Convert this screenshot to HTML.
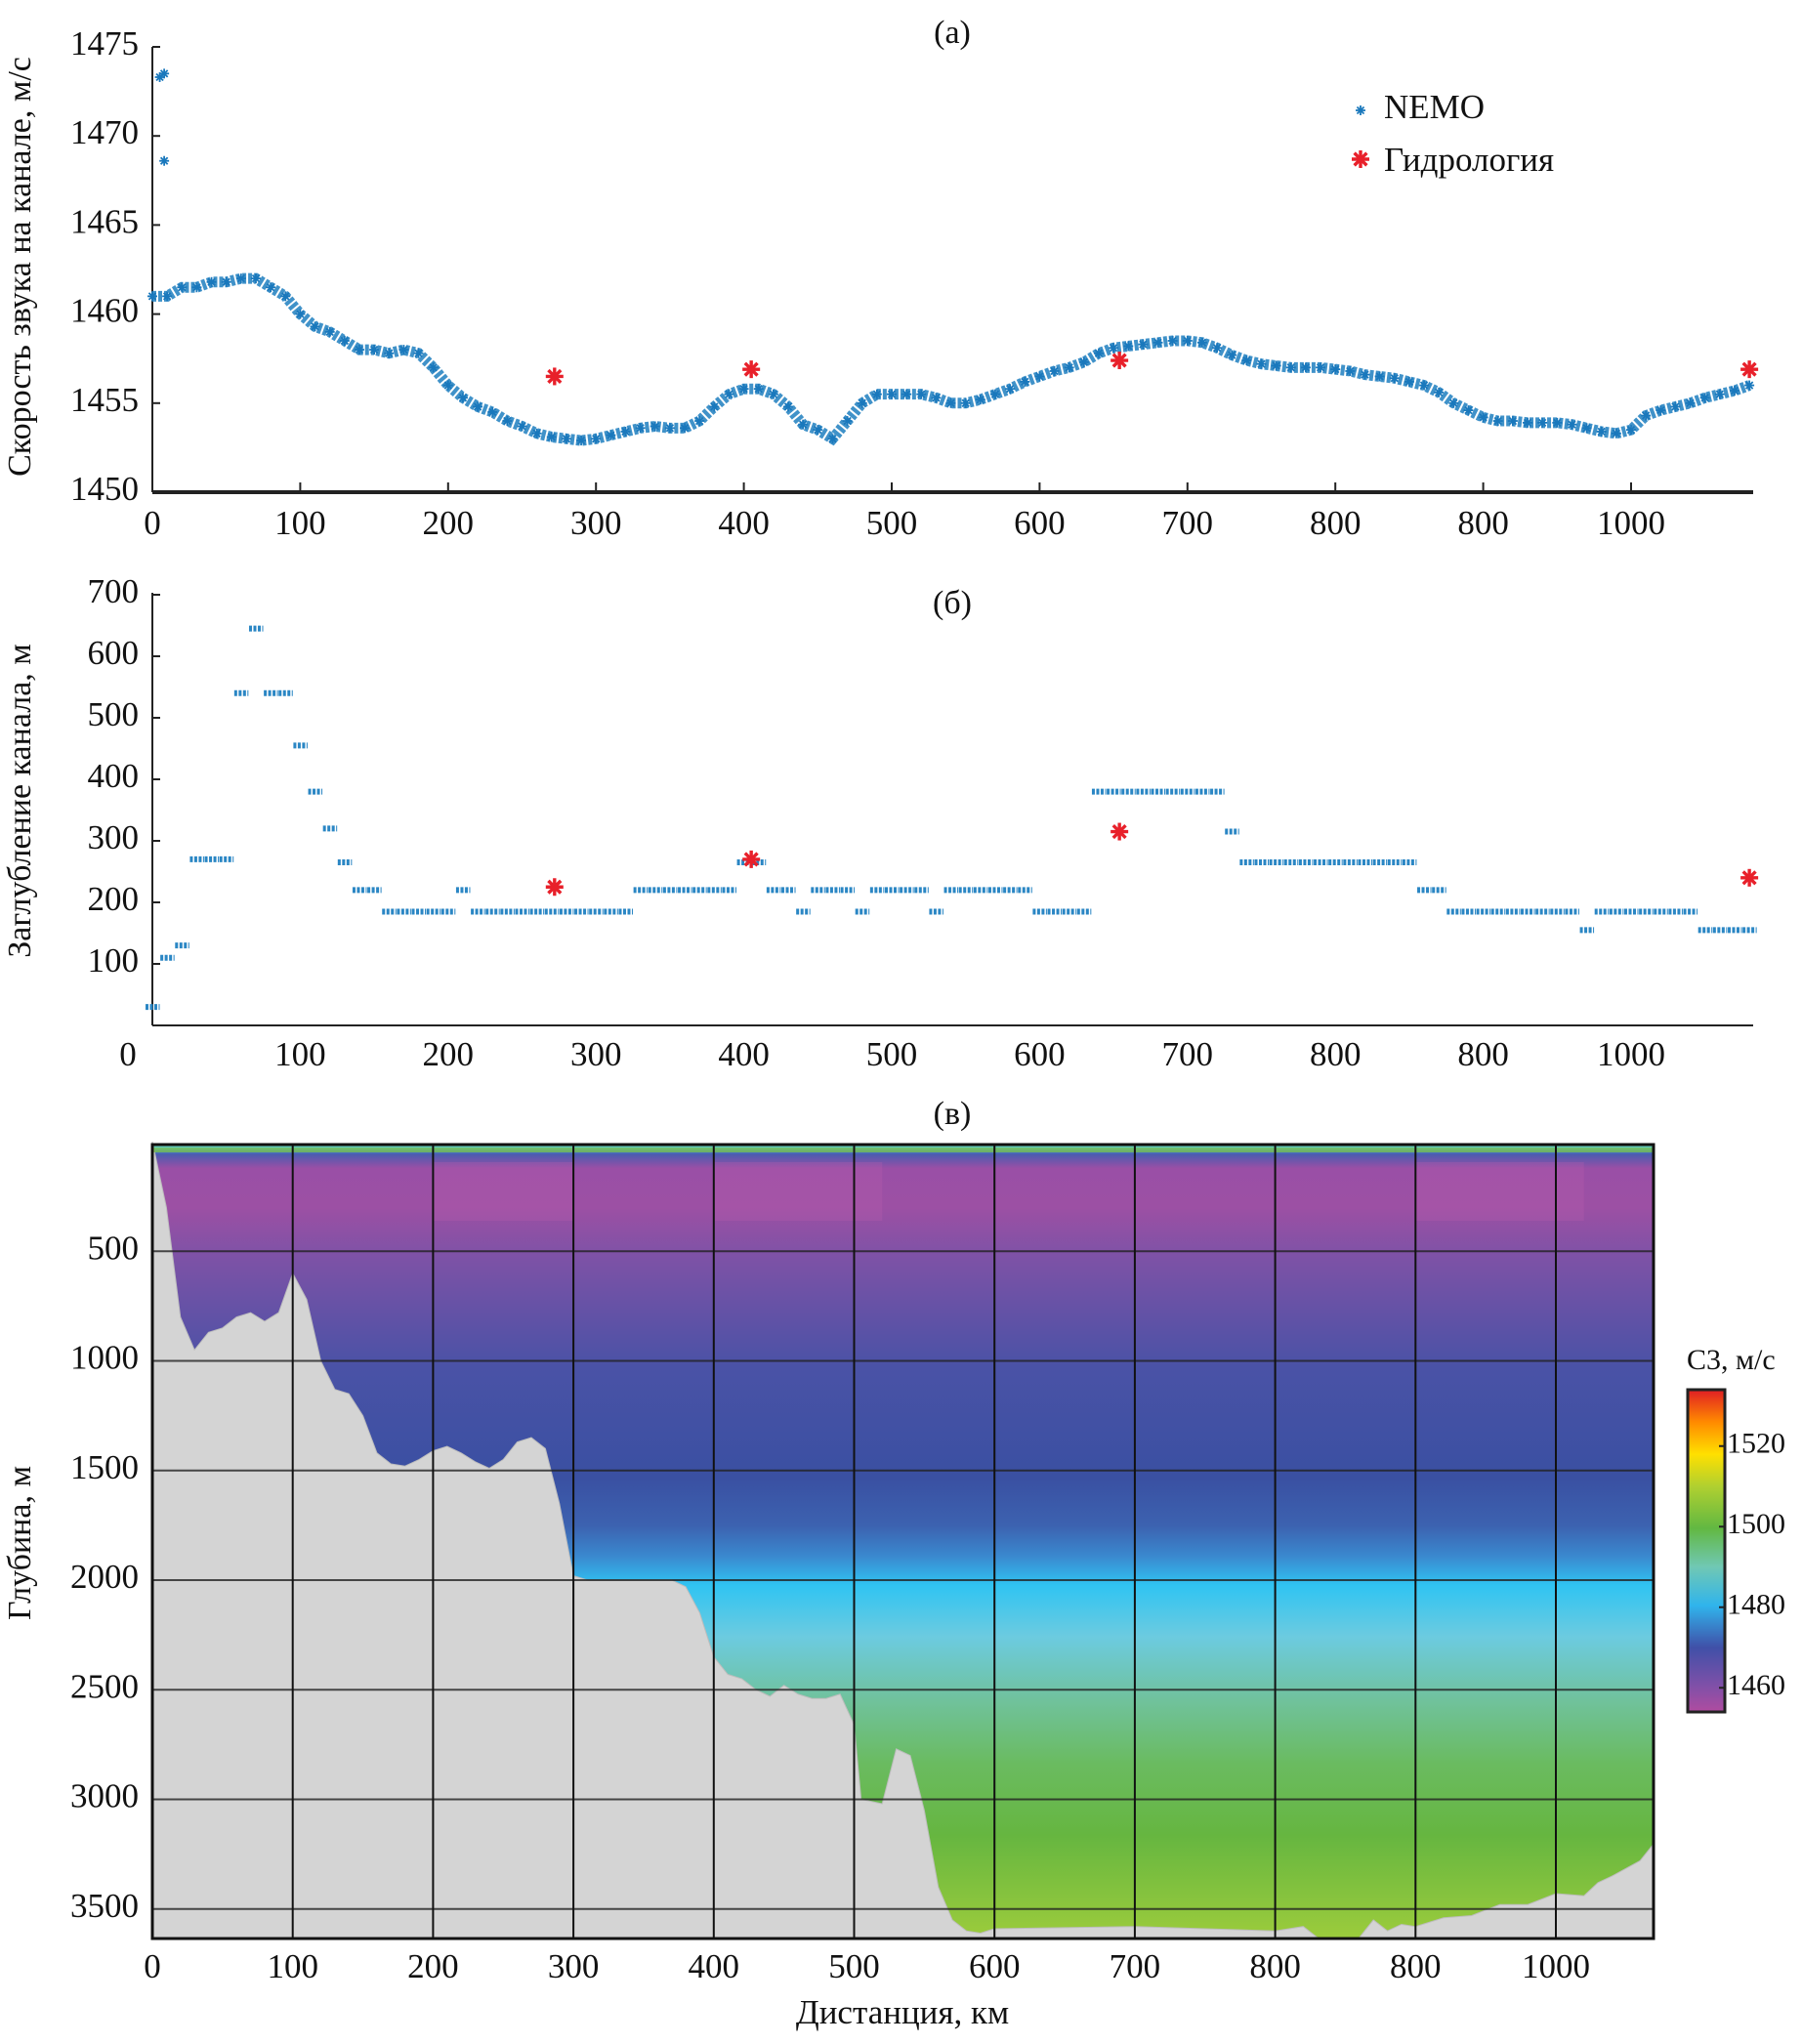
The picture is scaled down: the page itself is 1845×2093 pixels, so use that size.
<!DOCTYPE html>
<html><head><meta charset="utf-8">
<style>
html,body{margin:0;padding:0;background:#fff;}
svg{display:block;font-family:"Liberation Serif","DejaVu Serif",serif;}
</style></head>
<body>
<svg id="chart" width="1845" height="2093" viewBox="0 0 1845 2093" xmlns="http://www.w3.org/2000/svg">
<defs>
<linearGradient id="sectionGrad" x1="0" y1="0" x2="0" y2="1">
<stop offset="0" stop-color="#8cc850"/>
<stop offset="0.004" stop-color="#50c8e0"/>
<stop offset="0.012" stop-color="#4a5cb0"/>
<stop offset="0.03" stop-color="#9a4fa6"/>
<stop offset="0.08" stop-color="#9c50a4"/>
<stop offset="0.14" stop-color="#7e52a6"/>
<stop offset="0.28" stop-color="#4a52a6"/>
<stop offset="0.42" stop-color="#3a50a2"/>
<stop offset="0.48" stop-color="#3c62b0"/>
<stop offset="0.52" stop-color="#3a8ad0"/>
<stop offset="0.555" stop-color="#30c4f2"/>
<stop offset="0.62" stop-color="#6ccbe0"/>
<stop offset="0.70" stop-color="#70c29c"/>
<stop offset="0.78" stop-color="#6abb60"/>
<stop offset="0.87" stop-color="#66b640"/>
<stop offset="1" stop-color="#9ccc3c"/>
</linearGradient>
<linearGradient id="cbarGrad" x1="0" y1="1" x2="0" y2="0">
<stop offset="0" stop-color="#b04ca0"/>
<stop offset="0.08" stop-color="#8050a8"/>
<stop offset="0.2" stop-color="#4050a8"/>
<stop offset="0.33" stop-color="#30b4ec"/>
<stop offset="0.45" stop-color="#70c8b4"/>
<stop offset="0.57" stop-color="#62b842"/>
<stop offset="0.70" stop-color="#b0d030"/>
<stop offset="0.80" stop-color="#ffe000"/>
<stop offset="0.90" stop-color="#ff8a00"/>
<stop offset="1" stop-color="#e01e24"/>
</linearGradient>
</defs>
</svg>
<script>
// ---- data ----
const distA = [0,10,20,30,40,50,60,70,80,90,100,110,120,130,140,150,160,170,180,190,200,210,220,230,240,250,260,270,280,290,300,310,320,330,340,350,360,370,380,390,400,410,420,430,440,450,460,470,480,490,500,510,520,530,540,550,560,570,580,590,600,610,620,630,640,650,660,670,680,690,700,710,720,730,740,750,760,770,780,790,800,810,820,830,840,850,860,870,880,890,900,910,920,930,940,950,960,970,980,990,1000,1010,1020,1030,1040,1050,1060,1070,1080];
const speedNemo = [1461,1461,1461.5,1461.5,1461.8,1461.8,1462,1462,1461.5,1461,1460,1459.3,1459,1458.5,1458,1458,1457.8,1458,1457.8,1457,1456,1455.3,1454.8,1454.5,1454,1453.7,1453.3,1453.1,1453,1452.9,1453,1453.2,1453.4,1453.6,1453.7,1453.6,1453.6,1454,1454.8,1455.5,1455.8,1455.8,1455.5,1454.8,1453.8,1453.5,1453,1454,1455,1455.5,1455.5,1455.5,1455.5,1455.3,1455,1455,1455.2,1455.5,1455.8,1456.2,1456.5,1456.8,1457,1457.3,1457.8,1458.1,1458.2,1458.3,1458.4,1458.5,1458.5,1458.4,1458.1,1457.7,1457.4,1457.2,1457.1,1457,1457,1457,1456.9,1456.8,1456.6,1456.5,1456.4,1456.2,1456,1455.6,1455,1454.6,1454.2,1454,1454,1453.9,1453.9,1453.9,1453.8,1453.6,1453.4,1453.3,1453.5,1454.3,1454.6,1454.8,1455,1455.3,1455.5,1455.7,1456];
const outlierDist = [5,8,8];
const outlierSpeed = [1473.3,1473.5,1468.6];
const hydroDist = [272,405,654,1080];
const hydroSpeed = [1456.5,1456.9,1457.4,1456.9];
const depthChannel = [30,110,130,270,270,270,540,645,540,540,455,380,320,265,220,220,185,185,185,185,185,220,185,185,185,185,185,185,185,185,185,185,185,220,220,220,220,220,220,220,265,265,220,220,185,220,220,220,185,220,220,220,220,185,220,220,220,220,220,220,185,185,185,185,380,380,380,380,380,380,380,380,380,315,265,265,265,265,265,265,265,265,265,265,265,265,220,220,185,185,185,185,185,185,185,185,185,155,185,185,185,185,185,185,185,155,155,155,155];
const hydroDepth = [225,270,315,240];
const bathDist = [0,10,20,30,40,50,60,70,80,90,100,110,120,130,140,150,160,170,180,190,200,210,220,230,240,250,260,270,280,290,300,310,320,350,370,380,390,400,410,420,430,440,450,460,470,480,490,500,505,520,530,540,550,560,570,580,590,600,700,800,820,830,850,860,870,880,890,900,920,940,960,980,1000,1020,1030,1040,1060,1070];
const bathDepth = [0,300,800,950,870,850,800,780,820,780,600,720,1000,1130,1150,1250,1420,1470,1480,1450,1410,1390,1420,1460,1490,1450,1370,1350,1400,1650,1980,2000,2000,2000,2000,2030,2150,2350,2430,2450,2500,2530,2480,2520,2540,2540,2520,2660,3000,3020,2770,2800,3050,3400,3550,3600,3610,3590,3580,3600,3580,3630,3640,3630,3550,3600,3570,3580,3540,3530,3480,3480,3430,3440,3380,3350,3280,3200];
const xTickVals = [0,100,200,300,400,500,600,700,800,900,1000];
const xTickLabels = ["0","100","200","300","400","500","600","700","800","800","1000"];
const yTicksA = [1450,1455,1460,1465,1470,1475];
const yTicksB = [100,200,300,400,500,600,700];
const yTicksC = [500,1000,1500,2000,2500,3000,3500];
const cbarTicks = [1460,1480,1500,1520];

// ---- axes ----
const xA = v => 156 + v*1.514;
const yA = v => 504 - (v-1450)*(456/25);
const yB = v => 1050 - v*(441/700);
const xC = v => 156 + v*1.437;
const yC = v => 1169 + v*(224.5/1000);
const yCb = v => 1753 - (v-1454)*(330/80);

const NS="http://www.w3.org/2000/svg";
const svg=document.getElementById('chart');
function mk(tag,attrs,parent){const e=document.createElementNS(NS,tag);for(const k in attrs)e.setAttribute(k,attrs[k]);(parent||svg).appendChild(e);return e;}
function txt(s,x,y,anchor,size,parent){const t=mk('text',{x:x,y:y,'text-anchor':anchor,'font-size':size,fill:'#111','dominant-baseline':'middle'},parent);t.textContent=s;return t;}
function star(x,y,r,col,parent){const g=mk('g',{stroke:col,'stroke-width':r>5?3.4:1.8},parent);
 for(let a=0;a<4;a++){const an=a*Math.PI/4;mk('line',{x1:x-r*Math.cos(an),y1:y-r*Math.sin(an),x2:x+r*Math.cos(an),y2:y+r*Math.sin(an)},g);}
 return g;}

// ===== Panel (a) =====
const pa=mk('g',{});


let t=txt('(а)',975,36,'middle',34,pa);


mk('line',{x1:156,y1:48,x2:156,y2:504,stroke:'#222','stroke-width':2},pa);
mk('line',{x1:156,y1:504,x2:1795,y2:504,stroke:'#222','stroke-width':4},pa);
yTicksA.forEach(v=>{mk('line',{x1:156,y1:yA(v),x2:164,y2:yA(v),stroke:'#222','stroke-width':2},pa);
 const l=txt(String(v),142,yA(v),'end',35,pa);
 
 });
xTickVals.forEach((v,i)=>{mk('line',{x1:xA(v),y1:504,x2:xA(v),y2:494,stroke:'#222','stroke-width':2},pa);
 const l=txt(xTickLabels[i],xA(v),539,'middle',35,pa);
 
 });
t=txt('Скорость звука на канале, м/с',0,0,'middle',34,pa);
t.setAttribute('transform','translate(23,273) rotate(-90)');


const nemoLine=mk('polyline',{points:distA.map((d,i)=>xA(d)+','+yA(speedNemo[i])).join(' '),fill:'none',stroke:'#1f7fc0','stroke-width':11,'stroke-dasharray':'4 2','stroke-opacity':0.85},pa);


distA.forEach((d,i)=>{const s=star(xA(d),yA(speedNemo[i]),5,'#1a78bc',pa);
 
 });
outlierDist.forEach((d,i)=>{const s=star(xA(d),yA(outlierSpeed[i]),5,'#1a78bc',pa);
 
 });
hydroDist.forEach((d,i)=>{const s=star(xA(d),yA(hydroSpeed[i]),9,'#e8202a',pa);
 
 });
const lg=mk('g',{},pa);


star(1393,113,5,'#1a78bc',lg);
t=txt('NEMO',1417,113,'start',35,lg);


star(1393,163,9,'#e8202a',lg);
t=txt('Гидрология',1417,167,'start',35,lg);



// ===== Panel (б) =====
const pb=mk('g',{});


t=txt('(б)',975,620,'middle',34,pb);


mk('line',{x1:156,y1:607,x2:156,y2:1050,stroke:'#222','stroke-width':2},pb);
mk('line',{x1:156,y1:1050,x2:1795,y2:1050,stroke:'#222','stroke-width':2},pb);
yTicksB.forEach(v=>{mk('line',{x1:156,y1:yB(v),x2:164,y2:yB(v),stroke:'#222','stroke-width':2},pb);
 const l=txt(String(v),142,yB(v),'end',35,pb);
 
 });
xTickVals.forEach((v,i)=>{
 const l=txt(xTickLabels[i],i===0?131:xA(v),1083,'middle',35,pb);
 
 });
t=txt('Заглубление канала, м',0,0,'middle',34,pb);
t.setAttribute('transform','translate(23,820) rotate(-90)');


distA.forEach((d,i)=>{
 const seg=mk('line',{x1:xA(d)-7,y1:yB(depthChannel[i]),x2:xA(d)+7.5,y2:yB(depthChannel[i]),stroke:'#2a86c4','stroke-width':6,'stroke-dasharray':'3 1.5'},pb);
 
 });
hydroDist.forEach((d,i)=>{const s=star(xA(d),yB(hydroDepth[i]),9,'#e8202a',pb);
 
 });

// ===== Panel (в) =====
const pc=mk('g',{});


t=txt('(в)',975,1143,'middle',34,pc);


const field=mk('rect',{x:156,y:1172,width:1537,height:813,fill:'url(#sectionGrad)'},pc);


[[200,300],[400,520],[900,1020]].forEach(r=>{mk('rect',{x:xC(r[0]),y:1190,width:xC(r[1])-xC(r[0]),height:60,fill:'#c060b0',opacity:0.25},pc);});
let pts=bathDist.map((d,i)=>xC(d)+','+Math.min(1985,yC(bathDepth[i]))).join(' ');
pts = xC(0)+',1985 '+pts+' '+xC(1070)+',1985 1693,1985';
const bath=mk('polygon',{points:pts,fill:'#d4d4d4',stroke:'#bdbdbd','stroke-width':1},pc);


mk('rect',{x:156,y:1175,width:1537,height:5,fill:'#7cc040',opacity:0.7},pc);
yTicksC.forEach(v=>{mk('line',{x1:156,y1:yC(v),x2:1693,y2:yC(v),stroke:'#222','stroke-width':2,opacity:0.8},pc);
 const l=txt(String(v),142,yC(v),'end',35,pc);
 
 });
xTickVals.forEach((v,i)=>{if(i>0)mk('line',{x1:xC(v),y1:1172,x2:xC(v),y2:1985,stroke:'#111','stroke-width':2},pc);
 const l=txt(xTickLabels[i],xC(v),2017,'middle',35,pc);
 
 });
mk('rect',{x:156,y:1172,width:1537,height:813,fill:'none',stroke:'#111','stroke-width':3},pc);
t=txt('Глубина, м',0,0,'middle',34,pc);
t.setAttribute('transform','translate(23,1580) rotate(-90)');


t=txt('Дистанция, км',924,2064,'middle',35,pc);


const cb=mk('g',{},pc);


mk('rect',{x:1728,y:1423,width:38,height:330,fill:'url(#cbarGrad)',stroke:'#222','stroke-width':3},cb);
cbarTicks.forEach(v=>{mk('line',{x1:1760,y1:yCb(v),x2:1766,y2:yCb(v),stroke:'#222','stroke-width':2},cb);
 const l=txt(String(v),1768,yCb(v),'start',30,cb);
 
 });
t=txt('C3, м/с',1727,1395,'start',30,cb);


</script>
</body></html>
